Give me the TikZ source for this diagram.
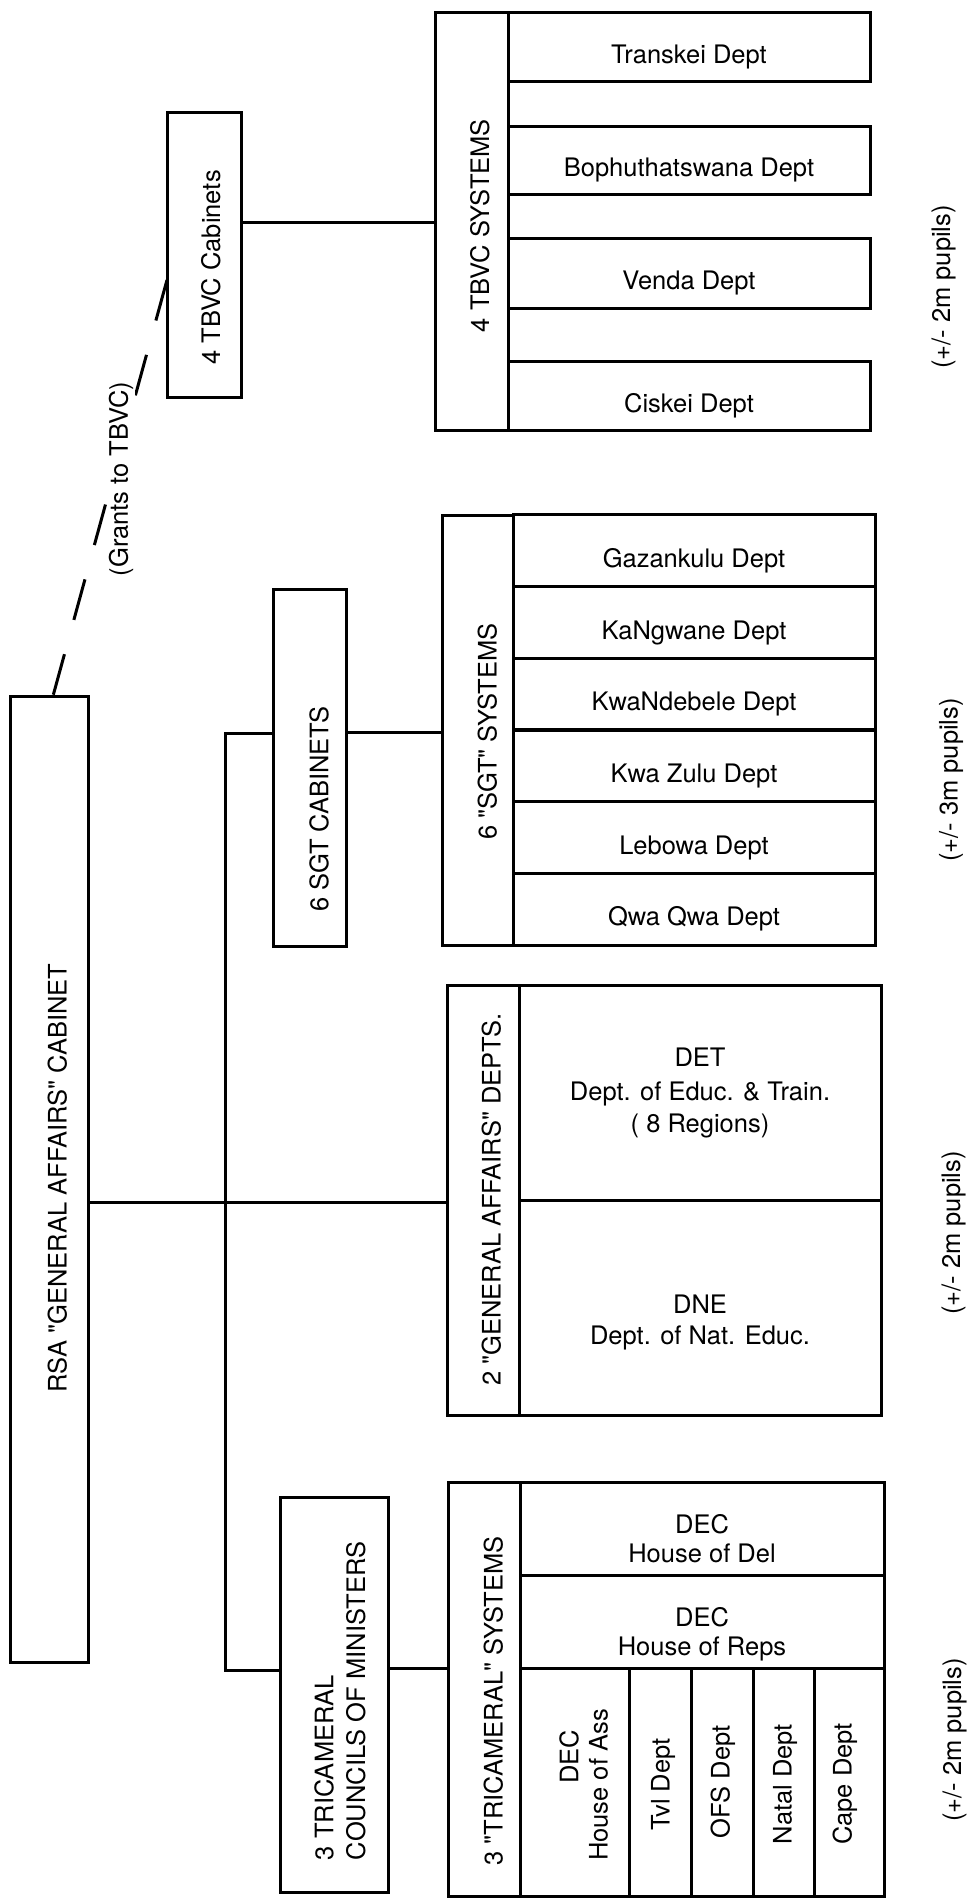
\documentclass[tikz,border=0pt]{standalone}
\usepackage{fontspec}
\setmainfont{TeX Gyre Heros}[Ligatures=TeXOff]
\usepackage{graphicx}
% horizontal line: baseline #2 below node centre
\newcommand{\hlab}[2]{\raisebox{-#2pt}[0pt][0pt]{\makebox[0pt]{#1}}}
% vertical (reads upward): baseline #2 right of centre, text centre shifted #3 upward
\newcommand{\vlab}[3]{\rotatebox{90}{\raisebox{-#2pt}[0pt][0pt]{\makebox[0pt]{\hspace*{#3pt}\hspace*{#3pt}#1}}}}
% vertical, left aligned: text starts #3 along the reading direction
\newcommand{\vlabl}[3]{\rotatebox{90}{\raisebox{-#2pt}[0pt][0pt]{\makebox[0pt][l]{\hspace*{#3pt}#1}}}}
\tikzset{
  every node/.style={font=\fontsize{25.5}{31}\selectfont},
  box/.style={draw, line width=3pt, inner sep=0pt, outer sep=0pt, anchor=center},
  conn/.style={line width=3pt},
  pupil/.style={rotate=90, inner sep=0pt},
}
\begin{document}
\begin{tikzpicture}[x=1pt,y=-1pt]
\fill[white] (0,0) rectangle (971,1898);
\useasboundingbox (0,0) rectangle (971,1898);

% RSA cabinet
\node[box, minimum width=78pt, minimum height=966pt] (rsa) at (49,1179) {\vlab{RSA "GENERAL AFFAIRS" CABINET}{17.7}{1}};

% TBVC
\node[box, minimum width=74pt, minimum height=285pt] (tbvccab) at (204,254.5) {\vlab{4 TBVC Cabinets}{16}{-13}};
\node[box, minimum width=73pt, minimum height=418pt] (tbvcsys) at (471.5,221) {\vlab{4 TBVC SYSTEMS}{17.5}{-4.5}};
\node[box, minimum width=362pt, minimum height=69pt] (transkei) at (689,46.5) {\hlab{Transkei Dept}{16.5}};
\node[box, minimum width=362pt, minimum height=68pt] (bophu) at (689,160) {\hlab{Bophuthatswana Dept}{16.5}};
\node[box, minimum width=362pt, minimum height=70pt] (venda) at (689,273) {\hlab{Venda Dept}{16.5}};
\node[box, minimum width=362pt, minimum height=69pt] (ciskei) at (689,395.5) {\hlab{Ciskei Dept}{16.5}};

% SGT
\node[box, minimum width=73pt, minimum height=357pt] (sgtcab) at (309.5,767.5) {\vlab{6 SGT CABINETS}{18.8}{-41.5}};
\node[box, minimum width=71pt, minimum height=430pt] (sgtsys) at (477.5,730) {\vlab{6 "SGT" SYSTEMS}{19}{-1.5}};
\node[box, minimum width=362pt, minimum height=71.67pt] (gaza) at (694,550.8) {\hlab{Gazankulu Dept}{16.5}};
\node[box, minimum width=362pt, minimum height=71.67pt] (kang) at (694,622.5) {\hlab{KaNgwane Dept}{16.5}};
\node[box, minimum width=362pt, minimum height=71.67pt] (kwand) at (694,694.2) {\hlab{KwaNdebele Dept}{16.5}};
\node[box, minimum width=362pt, minimum height=71.67pt] (kwaz) at (694,765.8) {\hlab{Kwa Zulu Dept}{16.5}};
\node[box, minimum width=362pt, minimum height=71.67pt] (lebowa) at (694,837.5) {\hlab{Lebowa Dept}{16.5}};
\node[box, minimum width=362pt, minimum height=71.67pt] (qwa) at (694,909.2) {\hlab{Qwa Qwa Dept}{16.5}};

% General affairs
\node[box, minimum width=72pt, minimum height=430pt] (gasys) at (483,1200) {\vlab{2 "GENERAL AFFAIRS" DEPTS.}{17.7}{0.5}};
\node[box, minimum width=362pt, minimum height=215pt] (det) at (700,1092.5) {\hlab{DET}{-25.8}\hlab{Dept. of Educ. \& Train.}{7.5}\hlab{( 8 Regions)}{39.5}};
\node[box, minimum width=362pt, minimum height=215pt] (dne) at (700,1307.5) {\hlab{DNE}{5.8}\hlab{Dept. of Nat. Educ.}{36.5}};

% Tricameral
\node[box, minimum width=108pt, minimum height=395pt] (council) at (334,1694.5) {\vlabl{3 TRICAMERAL}{-0.7}{-165.5}\vlabl{COUNCILS OF MINISTERS}{31}{-165.5}};
\node[box, minimum width=72pt, minimum height=414pt] (tricam) at (484,1689) {\vlab{3 "TRICAMERAL" SYSTEMS}{18.7}{-12}};
\node[box, minimum width=364pt, minimum height=93pt] (del) at (702,1528.5) {\hlab{DEC}{5}\hlab{House of Del}{34}};
\node[box, minimum width=364pt, minimum height=93pt] (reps) at (702,1621.5) {\hlab{DEC}{5}\hlab{House of Reps}{34}};
\node[box, minimum width=109pt, minimum height=228pt] (ass) at (574.5,1782) {\vlab{DEC}{3.9}{25}\vlab{House of Ass}{33.1}{-3}};
\node[box, minimum width=62pt, minimum height=228pt] (tvl) at (660,1782) {\vlab{Tvl Dept}{9.5}{-2.5}};
\node[box, minimum width=62pt, minimum height=228pt] (ofs) at (722,1782) {\vlab{OFS Dept}{7.6}{0}};
\node[box, minimum width=61pt, minimum height=228pt] (natal) at (783.5,1782) {\vlab{Natal Dept}{8}{-2}};
\node[box, minimum width=70pt, minimum height=228pt] (cape) at (849,1782) {\vlab{Cape Dept}{2.6}{-2}};

% pupil counts
\node[pupil] (pu1) at (943.5,287) {(+/- 2m pupils)};
\node[pupil] (pu2) at (951,780) {(+/- 3m pupils)};
\node[pupil] (pu3) at (953.5,1233) {(+/- 2m pupils)};
\node[pupil] (pu4) at (954.5,1740) {(+/- 2m pupils)};

% connectors
\coordinate (jn) at (225,1202);
\draw[conn] (tbvccab.east |- 0,222) -- (tbvcsys.west |- 0,222);
\draw[conn] (sgtcab.east |- 0,732) -- (sgtsys.west |- 0,732);
\draw[conn] (rsa.east |- 0,1202) -- (gasys.west |- 0,1202);
\draw[conn] (sgtcab.west |- 0,733) -| (jn) |- (council.west |- 0,1670);
\draw[conn] (council.east |- 0,1668) -- (tricam.west |- 0,1668);
\draw[conn, dash pattern=on 42pt off 35.6pt] (tbvccab.west |- 0,280) -- (53,0 |- rsa.north);
\node[pupil, fill=white, inner sep=2pt] (grants) at (121,479) {(Grants to TBVC)};
\end{tikzpicture}
\end{document}
